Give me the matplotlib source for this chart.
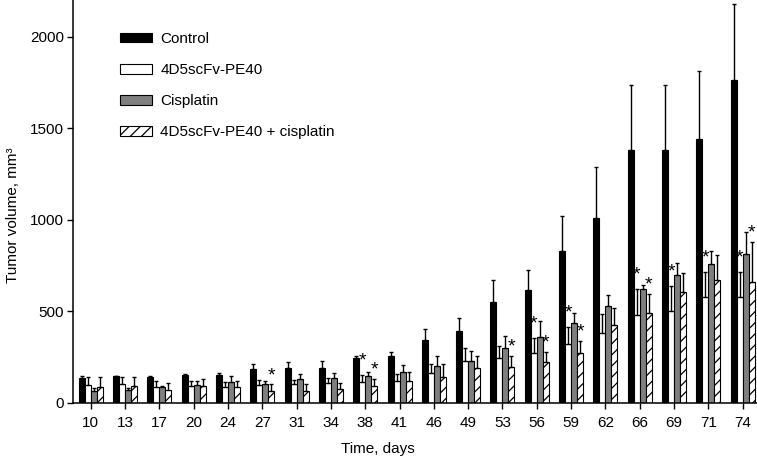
import numpy as np
import matplotlib
matplotlib.use('Agg')
import matplotlib.pyplot as plt

plt.rcParams['font.family'] = ['Liberation Sans', 'DejaVu Sans']
plt.rcParams['hatch.linewidth'] = 0.9

# 数据
days = ['10', '13', '17', '20', '24', '27', '31', '34', '38', '41',
        '46', '49', '53', '56', '59', '62', '66', '69', '71', '74']

control = [135, 145, 144, 153, 151, 184, 191, 193, 243, 255,
           346, 392, 549, 616, 828, 1008, 1380, 1380, 1442, 1766]
control_sd = [13, 5, 4, 5, 15, 31, 33, 37, 14, 22,
              58, 74, 121, 109, 191, 280, 358, 358, 368, 411]

pe40 = [97, 106, 87, 91, 85, 97, 101, 109, 117, 120,
        164, 232, 246, 272, 322, 382, 483, 503, 578, 578]
pe40_sd = [45, 36, 32, 29, 29, 31, 27, 27, 34, 40,
           51, 67, 65, 85, 91, 104, 140, 137, 136, 136]

cis = [66, 73, 87, 96, 114, 106, 133, 139, 148, 168,
       204, 232, 301, 359, 436, 527, 623, 697, 758, 815]
cis_sd = [16, 9, 6, 23, 32, 13, 24, 25, 21, 42,
          55, 54, 67, 91, 55, 62, 22, 66, 74, 118]

combo = [87, 91, 73, 91, 87, 68, 68, 78, 91, 120,
         142, 191, 197, 222, 274, 426, 491, 605, 674, 659]
combo_sd = [55, 51, 36, 42, 32, 33, 33, 33, 39, 49,
            73, 66, 60, 56, 63, 92, 104, 107, 136, 219]

# 显著性标记 (p < 0.05)
pe40_star = ['38', '56', '59', '66', '69', '71', '74']
combo_star = ['27', '38', '53', '56', '59', '66', '74']

fig = plt.figure(figsize=(7.57, 4.58), dpi=100)
ax = fig.add_axes([73 / 757, 55 / 458, 684 / 757, 403 / 458])

x = np.arange(len(days))
w = 0.175

groups = [
    ('Control', control, control_sd, dict(color='black', edgecolor='black')),
    ('4D5scFv-PE40', pe40, pe40_sd, dict(color='white', edgecolor='black')),
    ('Cisplatin', cis, cis_sd, dict(color='#7f7f7f', edgecolor='black')),
    ('4D5scFv-PE40 + cisplatin', combo, combo_sd,
     dict(color='white', edgecolor='black', hatch='///')),
]

handles = []
for k, (name, vals, sd, style) in enumerate(groups):
    pos = x + (k - 1.5) * w
    b = ax.bar(pos, vals, w, linewidth=0.8, label=name, zorder=2, **style)
    handles.append(b)
    ax.errorbar(pos, vals, yerr=[np.zeros(len(sd)), sd], fmt='none',
                ecolor='black', elinewidth=1.0, capsize=1.6, capthick=1.0,
                zorder=3)

for d in pe40_star:
    i = days.index(d)
    ax.annotate('*', (i - 0.5 * w, pe40[i] + pe40_sd[i]), xytext=(0, 10),
                textcoords='offset points', ha='center', va='center',
                fontsize=14)
for d in combo_star:
    i = days.index(d)
    ax.annotate('*', (i + 1.5 * w, combo[i] + combo_sd[i]), xytext=(0, 6.5),
                textcoords='offset points', ha='center', va='center',
                fontsize=14)

ax.set_xlim(-0.52, 19.42)
ax.set_ylim(0, 2200)
ax.set_xticks(x)
ax.set_xticklabels(days)
ax.set_yticks([0, 500, 1000, 1500, 2000])
ax.tick_params(axis='both', direction='out', length=4.5, width=1.0,
               labelsize=11)
ax.tick_params(axis='x', pad=5)
ax.tick_params(axis='y', pad=2)
for s in ['top', 'right']:
    ax.spines[s].set_visible(False)
for s in ['left', 'bottom']:
    ax.spines[s].set_linewidth(1.1)

ax.set_xlabel('Time, days', fontsize=11)
ax.xaxis.set_label_coords(0.446, -0.097)
ax.set_ylabel('Tumor volume, mm³', fontsize=11)
ax.yaxis.set_label_coords(-0.078, 0.466)

ax.legend(handles=handles, loc='upper left', frameon=False, fontsize=11,
          bbox_to_anchor=(120 / 757, 1 - 32 / 458),
          bbox_transform=fig.transFigure, borderpad=0, borderaxespad=0,
          handlelength=2.1, handleheight=0.6, handletextpad=0.55,
          labelspacing=1.12)

plt.savefig('out.png', dpi=100)
